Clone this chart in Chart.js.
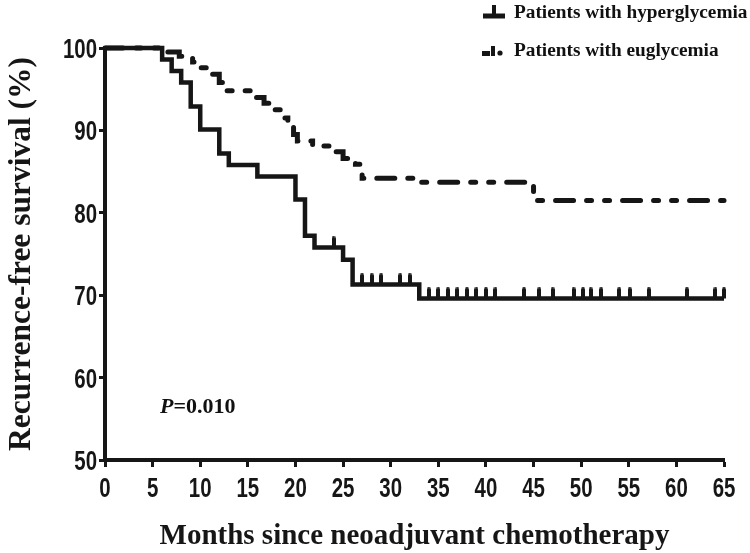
<!DOCTYPE html>
<html>
<head>
<meta charset="utf-8">
<script src="https://cdn.jsdelivr.net/npm/chart.js@4/dist/chart.umd.min.js"></script>
<style>
  html, body { margin: 0; padding: 0; background: #fff; }
  #wrap { position: relative; width: 750px; height: 553px; }
  #c { position: absolute; left: 0; top: 0; }
  .leg { position: absolute; left: 480px; height: 22px; display: flex; align-items: center;
         font-family: 'Liberation Serif', 'Times New Roman', serif; font-weight: bold; font-size: 19.3px; color: #111; white-space: nowrap; }
  .leg canvas { margin-right: 4px; }
  #pval { position: absolute; left: 160px; top: 393px; font-family: 'Liberation Serif', 'Times New Roman', serif;
          font-weight: bold; font-size: 22px; color: #111; }
</style>
</head>
<body>
<div id="wrap">
  <canvas id="c" width="750" height="553"></canvas>
  <div class="leg" id="leg1" style="top:1px"><canvas id="m1" width="30" height="22"></canvas><span>Patients with hyperglycemia</span></div>
  <div class="leg" id="leg2" style="top:39px"><canvas id="m2" width="30" height="22"></canvas><span>Patients with euglycemia</span></div>
  <div id="pval"><i>P</i>=0.010</div>
</div>
<script>
// ---- data ----
const xTicks = [0, 5, 10, 15, 20, 25, 30, 35, 40, 45, 50, 55, 60, 65];
const yTicks = [50, 60, 70, 80, 90, 100];

const hyperTimes = [0, 6, 7, 8, 9, 10, 12, 13, 16, 20, 21, 22, 25, 26, 33, 65];
const hyperSurv  = [100, 98.6, 97.2, 95.8, 92.9, 90.1, 87.2, 85.8, 84.4, 81.6, 77.2, 75.8, 74.3, 71.3, 69.6, 69.6];
const hyperCensor = [24, 27, 28, 29, 31, 32, 34, 35, 36, 37, 38, 39, 40, 41, 44, 45.6, 47, 49.2, 50.2, 51, 52.1, 54, 55.1, 57.1, 61.1, 64.1, 65];

const euTimes = [0, 6.5, 7.8, 9.2, 10.0, 11.0, 12.0, 12.8, 15.5, 16.7, 17.6, 18.4, 19.2, 19.8, 20.2, 21.8, 23.6, 25.0, 26.3, 27.0, 33.0, 45.0, 65];
const euSurv  = [100, 99.5, 99.0, 98.3, 97.6, 96.8, 95.8, 94.8, 94.0, 93.3, 92.5, 91.5, 90.5, 89.5, 88.7, 88.1, 87.4, 86.6, 85.9, 84.2, 83.7, 81.5, 81.5];

const seriesNames = ['Patients with hyperglycemia', 'Patients with euglycemia'];
const xTitle = 'Months since neoadjuvant chemotherapy';
const yTitle = 'Recurrence-free survival (%)';

// ---- helpers ----
function survAt(times, surv, t) {
  let v = surv[0];
  for (let i = 0; i < times.length; i++) { if (times[i] <= t) v = surv[i]; }
  return v;
}
const INK = '#161616';
// censor tick: drawn centred on point, only top half inked => tick rising above the line
const tickImg = document.createElement('canvas');
tickImg.width = 4; tickImg.height = 22;
(function(){ const g = tickImg.getContext('2d'); g.fillStyle = INK; g.beginPath();
  g.moveTo(0, 11); g.lineTo(0, 2); g.arc(2, 2, 2, Math.PI, 0); g.lineTo(4, 11); g.closePath(); g.fill(); })();

// legend markers
(function(){
  const g1 = document.getElementById('m1').getContext('2d');
  g1.strokeStyle = INK; g1.lineWidth = 5; g1.beginPath(); g1.moveTo(3, 15); g1.lineTo(25, 15); g1.stroke();
  g1.lineWidth = 4; g1.beginPath(); g1.moveTo(14, 15); g1.lineTo(14, 4); g1.stroke();
  const g2 = document.getElementById('m2').getContext('2d');
  g2.fillStyle = INK; g2.fillRect(2, 12, 8, 5); g2.fillRect(11, 7, 4, 10);
  g2.beginPath(); g2.arc(20, 14, 2.6, 0, Math.PI*2); g2.fill();
})();

// Tick labels in a condensed bold sans (horizontally compressed), placed via the chart's scales
const TICK_PX = 28, TICK_SX = 0.73;
const narrowTicks = {
  id: 'narrowTicks',
  afterDraw(chart) {
    const ctx = chart.ctx, xs = chart.scales.x, ys = chart.scales.y, ca = chart.chartArea;
    ctx.save();
    ctx.fillStyle = INK;
    ctx.font = 'bold ' + TICK_PX + "px 'Liberation Sans', Arial, sans-serif";
    ctx.textBaseline = 'alphabetic';
    ctx.textAlign = 'center';
    xTicks.forEach(v => {
      ctx.save(); ctx.translate(xs.getPixelForValue(v), ca.bottom + 37); ctx.scale(TICK_SX, 1);
      ctx.fillText(String(v), 0, 0); ctx.restore();
    });
    ctx.textAlign = 'right';
    yTicks.forEach(v => {
      ctx.save(); ctx.translate(ca.left - 8, ys.getPixelForValue(v) + 10); ctx.scale(TICK_SX, 1);
      ctx.fillText(String(v), 0, 0); ctx.restore();
    });
    ctx.restore();
  }
};

const serif = "'Liberation Serif', 'Times New Roman', serif";

new Chart(document.getElementById('c'), {
  type: 'line',
  plugins: [narrowTicks],
  data: {
    datasets: [
      {
        label: seriesNames[1],
        data: euTimes.map((t, i) => ({ x: t, y: euSurv[i] })),
        stepped: 'before', borderColor: INK, borderWidth: 5, borderDash: [18, 13, 5, 13, 5, 13],
        borderCapStyle: 'round', pointRadius: 0, fill: false, order: 2
      },
      {
        label: seriesNames[0],
        data: hyperTimes.map((t, i) => ({ x: t, y: hyperSurv[i] })),
        stepped: 'before', borderColor: INK, borderWidth: 4.5, borderCapStyle: 'butt', borderJoinStyle: 'miter',
        pointRadius: 0, fill: false, order: 1
      },
      {
        label: 'censored',
        data: hyperCensor.map(t => ({ x: t, y: survAt(hyperTimes, hyperSurv, t) })),
        showLine: false, pointStyle: tickImg, pointRadius: 5, borderColor: INK, backgroundColor: INK, order: 0
      }
    ]
  },
  options: {
    responsive: false, animation: false, clip: false,
    layout: { padding: { top: 48, right: 26, left: 0, bottom: 0 } },
    plugins: { legend: { display: false }, tooltip: { enabled: false } },
    scales: {
      x: {
        type: 'linear', min: 0, max: 65,
        afterBuildTicks: s => { s.ticks = xTicks.map(v => ({ value: v })); },
        ticks: { display: false },
        grid: { drawOnChartArea: false, drawTicks: true, tickLength: 7, tickWidth: 3, tickColor: INK },
        border: { color: INK, width: 4 },
        title: { display: true, text: xTitle, font: { family: serif, weight: 'bold', size: 29, lineHeight: 1 }, color: INK, padding: { top: 0, bottom: 1.5 } },
        afterFit: s => { s.height = 93; }
      },
      y: {
        min: 50, max: 100,
        afterBuildTicks: s => { s.ticks = yTicks.map(v => ({ value: v })); },
        ticks: { display: false },
        grid: { drawOnChartArea: false, drawTicks: true, tickLength: 6, tickWidth: 3, tickColor: INK },
        border: { color: INK, width: 4 },
        title: { display: true, text: yTitle, font: { family: serif, weight: 'bold', size: 31.5, lineHeight: 1 }, color: INK, padding: { top: 6, bottom: 0 } },
        afterFit: s => { s.width = 105; }
      }
    }
  }
});
</script>
</body>
</html>
